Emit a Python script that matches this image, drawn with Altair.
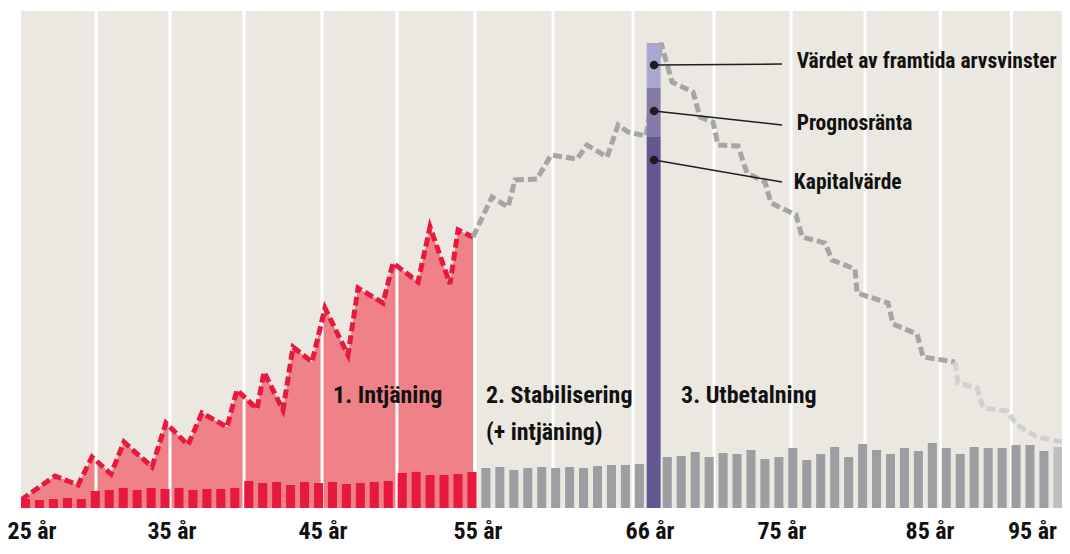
import altair as alt
import pandas as pd

# ---------------- data (x = year index, 0 = 25 år; y = value units) ----------------
red_bar_vals = [1.8, 1.6, 1.8, 2.0, 1.8, 3.4, 3.6, 4.0, 3.6, 4.0, 3.8, 4.0, 3.6, 3.8, 3.8, 4.0,
                5.4, 5.0, 5.2, 4.6, 5.2, 5.0, 5.2, 4.8, 5.0, 5.2, 5.4, 7.0, 7.2, 6.6, 6.6, 6.8, 7.2]
gray_bar_vals_a = [8.0, 8.2, 7.6, 8.0, 8.2, 8.0, 8.2, 8.0, 8.4, 8.6, 8.6, 8.8]
gray_bar_vals_b = [10.2, 10.4, 11.2, 10.2, 11.0, 10.8, 11.6, 9.8, 10.2, 12.0, 9.6, 10.8, 12.2, 10.2,
                   12.8, 11.6, 10.8, 12.0, 11.4, 13.0, 12.0, 10.8, 12.2, 12.0, 12.0, 12.6, 12.6, 11.4]
light_bar_vals = [12.2, 12.2]

# purple stacked bar at 66 år
purple_segments = ["Kapitalvärde", "Prognosränta", "Värdet av framtida arvsvinster"]
purple_start = [0.0, 74.2, 84.0]
purple_end = [74.2, 84.0, 93.0]
purple_x = [44.85, 45.85]

# dashed capital curve
red_line_x = [0, 2.44, 4.09, 5.09, 6.45, 7.38, 9.39, 10.39, 11.97, 12.97, 14.77, 15.48, 16.92, 17.42,
              18.78, 19.5, 20.86, 21.79, 23.44, 24.16, 25.95, 26.67, 28.46, 29.32, 30.75, 31.33, 32.4]
red_line_y = [1.6, 6.4, 4.6, 10.2, 6.8, 13.2, 8.2, 17.0, 12.6, 19.0, 16.2, 23.6, 19.8, 27.2,
              19.6, 32.2, 29.2, 40.0, 30.6, 44.0, 41.0, 49.0, 45.2, 56.2, 44.8, 55.6, 54.2]
gray_line_x = [32.4, 33.76, 34.91, 35.41, 36.99, 37.99, 39.86, 40.57, 42.01, 42.8, 43.51, 44.8, 45.88,
               46.67, 48.17, 48.67, 49.61, 49.96, 51.4, 52.04, 53.33, 53.76, 55.56, 55.99, 57.63, 58.14,
               59.78, 59.93, 62.15, 62.51, 64.23, 64.66, 66.95]
gray_line_y = [54.2, 62.2, 60.2, 65.6, 65.8, 70.6, 69.8, 72.6, 70.2, 76.6, 75.2, 74.4, 93.0,
               85.2, 83.2, 78.2, 77.2, 72.6, 72.4, 67.0, 65.2, 61.0, 58.6, 54.2, 53.0, 49.6,
               47.8, 43.0, 41.0, 36.8, 34.8, 30.2, 29.2]
light_line_x = [66.95, 67.17, 68.53, 68.96, 70.68, 71.4, 72.83, 74.27, 75.2]
light_line_y = [29.2, 25.0, 24.0, 20.0, 19.4, 16.6, 14.2, 13.4, 13.2]

grid_positions = [5.38, 10.68, 15.99, 21.58, 26.95, 32.54, 38.14, 43.87, 49.68, 55.2, 60.5, 65.9, 71.0]

tick_labels = ["25 år", "35 år", "45 år", "55 år", "66 år", "75 år", "85 år", "95 år"]
tick_pos = [0.79, 10.82, 21.65, 32.76, 45.09, 54.55, 65.16, 72.5]

phase_labels = ["1. Intjäning", "2. Stabilisering", "(+ intjäning)", "3. Utbetalning"]
phase_x = [22.37, 33.33, 33.33, 47.31]
phase_y = [22.4, 22.4, 15.0, 22.4]

ann_labels = ["Värdet av framtida arvsvinster", "Prognosränta", "Kapitalvärde"]
ann_dot_x = [45.38, 45.38, 45.38]
ann_dot_y = [88.6, 79.4, 69.6]
ann_end_x = [54.55, 54.55, 54.55]
ann_end_y = [88.8, 76.6, 65.2]
ann_text_x = [55.6, 55.6, 55.4]
ann_text_y = [89.2, 76.8, 65.0]

# ---------------- colours / fonts ----------------
BG = "#ebe8e1"
RED = "#e8193e"
PINK = "#ef8288"
GRAY = "#9d9ea2"
LIGHTGRAY = "#bfbfc1"
LINEGRAY = "#a5a5a8"
LINELIGHT = "#d0d0d0"
FONT = "Roboto Condensed, Roboto, sans-serif"

# ---------------- tables ----------------
bars = []
idx = 0
for v in red_bar_vals:
    bars.append({"i": idx, "v": v, "kind": "red"}); idx += 1
for v in gray_bar_vals_a:
    bars.append({"i": idx, "v": v, "kind": "gray"}); idx += 1
idx += 1  # slot of the purple bar (66 år)
for v in gray_bar_vals_b:
    bars.append({"i": idx, "v": v, "kind": "gray"}); idx += 1
for v in light_bar_vals:
    bars.append({"i": idx, "v": v, "kind": "light"}); idx += 1
bars_df = pd.DataFrame(bars)
bars_df["i2"] = bars_df["i"] + 0.65
bars_df["base"] = 0.0

line_rows = []
for xs_, ys_, s in [(red_line_x, red_line_y, "red"),
                    (gray_line_x, gray_line_y, "gray"),
                    (light_line_x, light_line_y, "light")]:
    for j, (a, b) in enumerate(zip(xs_, ys_)):
        line_rows.append({"x": a, "y": b, "series": s, "order": j})
line_df = pd.DataFrame(line_rows)
area_df = pd.DataFrame({"x": red_line_x, "y": red_line_y})

purple_df = pd.DataFrame({"seg": purple_segments, "y0": purple_start, "y1": purple_end,
                          "x0": purple_x[0], "x1": purple_x[1]})
grid_df = pd.DataFrame({"x": grid_positions})
tick_df = pd.DataFrame({"x": tick_pos, "label": tick_labels, "y": -4.8})
phase_df = pd.DataFrame({"x": phase_x, "y": phase_y, "label": phase_labels})
ann_df = pd.DataFrame({"x": ann_dot_x, "y": ann_dot_y, "x2": ann_end_x, "y2": ann_end_y,
                       "tx": ann_text_x, "ty": ann_text_y, "label": ann_labels})

# ---------------- scales ----------------
xs = alt.Scale(domain=[0, 74.62], nice=False, zero=False)
ys = alt.Scale(domain=[0, 99.4], nice=False, zero=False)


def X(f):
    return alt.X(f, type="quantitative", scale=xs, axis=None)


def Y(f):
    return alt.Y(f, type="quantitative", scale=ys, axis=None)


area = alt.Chart(area_df).mark_area(color=PINK, opacity=1, interpolate="linear").encode(
    x=X("x"), y=Y("y"))

grid = alt.Chart(grid_df).mark_rule(color="white", strokeWidth=3).encode(x=X("x"))

bar_layer = alt.Chart(bars_df).mark_rect(clip=True).encode(
    x=X("i"), x2="i2", y=Y("base"), y2="v",
    color=alt.Color("kind:N", scale=alt.Scale(domain=["red", "gray", "light"],
                                               range=[RED, GRAY, LIGHTGRAY]), legend=None))

lines = alt.Chart(line_df).mark_line(strokeWidth=5, strokeDash=[9, 4], strokeCap="butt",
                                     strokeJoin="miter", clip=True).encode(
    x=X("x"), y=Y("y"), order="order:Q", detail="series:N",
    color=alt.Color("series:N", scale=alt.Scale(domain=["red", "gray", "light"],
                                                 range=[RED, LINEGRAY, LINELIGHT]), legend=None))

purple = alt.Chart(purple_df).mark_rect().encode(
    x=X("x0"), x2="x1", y=Y("y0"), y2="y1",
    color=alt.Color("seg:N", scale=alt.Scale(domain=purple_segments,
                                              range=["#645892", "#857ba9", "#aaa7d4"]), legend=None))

leaders = alt.Chart(ann_df).mark_rule(color="#1e1e1e", strokeWidth=1.5).encode(
    x=X("x"), y=Y("y"), x2="x2", y2="y2")
dots = alt.Chart(ann_df).mark_point(filled=True, color="#1e1e1e", size=75, opacity=1).encode(
    x=X("x"), y=Y("y"))
ann_text = alt.Chart(ann_df).mark_text(align="left", baseline="middle", font=FONT,
                                       fontWeight="bold", fontSize=21.5, color="#111").encode(
    x=X("tx"), y=Y("ty"), text="label:N")

phase_text = alt.Chart(phase_df).mark_text(align="left", baseline="middle", font=FONT,
                                           fontWeight="bold", fontSize=24, color="#111").encode(
    x=X("x"), y=Y("y"), text="label:N")

tick_text = alt.Chart(tick_df).mark_text(align="center", baseline="middle", font=FONT,
                                         fontWeight="bold", fontSize=24, color="#111").encode(
    x=X("x"), y=Y("y"), text="label:N")

chart = alt.layer(area, grid, bar_layer, lines, purple, leaders, dots, ann_text, phase_text,
                  tick_text).resolve_scale(color="independent").properties(
    width=1041, height=497,
    padding={"left": 13, "top": 3, "right": 0, "bottom": 38},
    autosize=alt.AutoSizeParams(type="none"),
    background="white",
).configure_view(fill=BG, stroke=None)

chart.save("out.html", embed_options={"renderer": "svg", "actions": False})
